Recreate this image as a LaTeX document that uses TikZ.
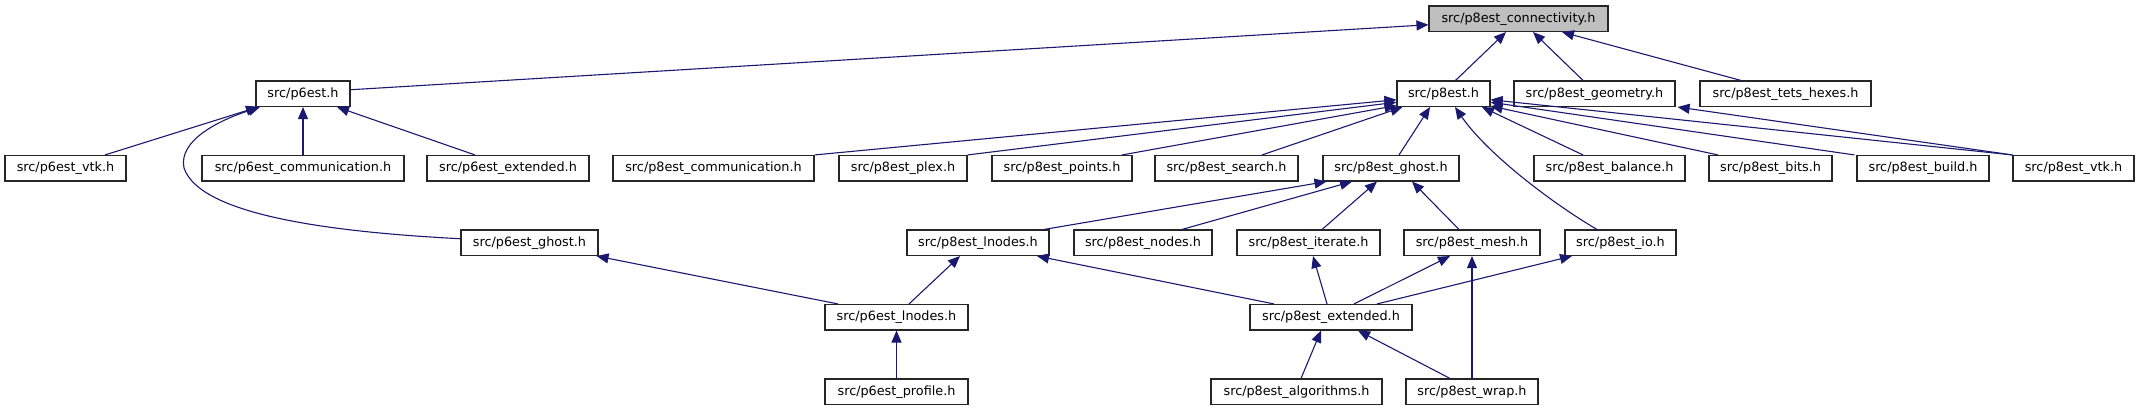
\documentclass[tikz,border=0pt]{standalone}
\usepackage{fontspec}
\setmainfont{DejaVu Sans}
\usetikzlibrary{arrows.meta}
\definecolor{edgeblue}{HTML}{191970}
\definecolor{rootgray}{HTML}{BFBFBF}
\tikzset{
  box/.style={draw=black!85, line width=1.1pt, fill=white, inner sep=0pt, minimum height=25.5pt,
    font=\fontsize{12.8}{15}\selectfont, anchor=center},
  rootbox/.style={box, fill=rootgray},
  edge/.style={draw=edgeblue, line width=1.1pt, -{Triangle[length=12pt,width=10pt]}, color=edgeblue}
}
\begin{document}
\begin{tikzpicture}[x=1pt,y=-1pt]
\useasboundingbox (0,0) rectangle (2140,411);
% row 0
\node[rootbox, minimum width=179pt] (conn) at (1518.5,18.75) {src/p8est\_connectivity.h};
% row 1
\node[box, minimum width=94pt] (p6) at (303,93.75) {src/p6est.h};
\node[box, minimum width=93pt] (p8) at (1443.5,93.75) {src/p8est.h};
\node[box, minimum width=161pt] (geom) at (1594.5,93.75) {src/p8est\_geometry.h};
\node[box, minimum width=171pt] (tets) at (1785.5,93.75) {src/p8est\_tets\_hexes.h};
% row 2
\node[box, minimum width=121pt] (p6vtk) at (65.5,168.25) {src/p6est\_vtk.h};
\node[box, minimum width=202pt] (p6comm) at (303,168.25) {src/p6est\_communication.h};
\node[box, minimum width=162pt] (p6ext) at (508,168.25) {src/p6est\_extended.h};
\node[box, minimum width=201pt] (p8comm) at (713.5,168.25) {src/p8est\_communication.h};
\node[box, minimum width=128pt] (p8plex) at (903,168.25) {src/p8est\_plex.h};
\node[box, minimum width=140pt] (p8points) at (1062,168.25) {src/p8est\_points.h};
\node[box, minimum width=143pt] (p8search) at (1226.5,168.25) {src/p8est\_search.h};
\node[box, minimum width=136pt] (p8ghost) at (1391,168.25) {src/p8est\_ghost.h};
\node[box, minimum width=151pt] (p8bal) at (1609.5,168.25) {src/p8est\_balance.h};
\node[box, minimum width=123pt] (p8bits) at (1770.5,168.25) {src/p8est\_bits.h};
\node[box, minimum width=132pt] (p8build) at (1923,168.25) {src/p8est\_build.h};
\node[box, minimum width=121pt] (p8vtk) at (2073.5,168.25) {src/p8est\_vtk.h};
% row 3
\node[box, minimum width=137pt] (p6ghost) at (529.5,242.75) {src/p6est\_ghost.h};
\node[box, minimum width=142pt] (p8lnodes) at (978,242.75) {src/p8est\_lnodes.h};
\node[box, minimum width=138pt] (p8nodes) at (1143,242.75) {src/p8est\_nodes.h};
\node[box, minimum width=143pt] (p8iter) at (1308.5,242.75) {src/p8est\_iterate.h};
\node[box, minimum width=136pt] (p8mesh) at (1472,242.75) {src/p8est\_mesh.h};
\node[box, minimum width=111pt] (p8io) at (1620.5,242.75) {src/p8est\_io.h};
% row 4
\node[box, minimum width=143pt] (p6lnodes) at (896.5,317.25) {src/p6est\_lnodes.h};
\node[box, minimum width=162pt] (p8ext) at (1331,317.25) {src/p8est\_extended.h};
% row 5
\node[box, minimum width=143pt] (p6prof) at (896.5,391.75) {src/p6est\_profile.h};
\node[box, minimum width=171pt] (p8alg) at (1296.5,391.75) {src/p8est\_algorithms.h};
\node[box, minimum width=132pt] (p8wrap) at (1472,391.75) {src/p8est\_wrap.h};

% edges into connectivity
\draw[edge] ([yshift=4pt]p6.east) -- ([yshift=-6pt]conn.west);
\draw[edge] ([xshift=12pt]p8.north) -- ([xshift=-12.5pt]conn.south);
\draw[edge] ([xshift=-11.5pt]geom.north) -- ([xshift=14.5pt]conn.south);
\draw[edge] ([xshift=-44.5pt]tets.north) -- ([xshift=43.5pt]conn.south);
% edges into p6est.h
\draw[edge] ([xshift=39.5pt]p6vtk.north) -- ([xshift=-45pt]p6.south);
\draw[edge] (p6comm.north) -- (p6.south);
\draw[edge] ([xshift=-33pt]p6ext.north) -- ([xshift=34pt]p6.south);
\draw[edge] ([yshift=4pt]p6ghost.west) .. controls (330,232) and (200,215) .. (184,168)
  .. controls (178,140) and (220,120) .. ([xshift=-43pt]p6.south);
% edges into p8est.h
\draw[edge] (p8comm.north east) -- ([yshift=-6pt]p8.west);
\draw[edge] (p8plex.north east) -- ([yshift=-8.5pt]p8.west);
\draw[edge] ([xshift=60pt]p8points.north) -- ([yshift=1.5pt]p8.south west);
\draw[edge] ([xshift=35.5pt]p8search.north) -- ([xshift=6pt]p8.south west);
\draw[edge] ([xshift=8pt]p8ghost.north) -- ([xshift=-13.5pt]p8.south);
\draw[edge] ([xshift=-23.5pt]p8io.north) .. controls (1555,205) and (1488,155) .. ([xshift=11.5pt]p8.south);
\draw[edge] ([xshift=-26.5pt]p8bal.north) -- ([xshift=38.5pt]p8.south);
\draw[edge] ([xshift=-52.5pt]p8bits.north) -- ([yshift=1pt]p8.south east);
\draw[edge] ([xshift=-2pt]p8build.north west) -- ([yshift=-8.5pt]p8.east);
\draw[edge] (p8vtk.north west) -- ([yshift=-6pt]p8.east);
\draw[edge] (p8vtk.north west) -- ([xshift=2pt]geom.south east);
% edges into p8est_ghost.h
\draw[edge] ([xshift=66pt]p8lnodes.north) -- ([xshift=4pt]p8ghost.south west);
\draw[edge] ([xshift=39pt]p8nodes.north) -- ([xshift=-39pt]p8ghost.south);
\draw[edge] ([xshift=13.5pt]p8iter.north) -- ([xshift=-14pt]p8ghost.south);
\draw[edge] ([xshift=-13pt]p8mesh.north) -- ([xshift=21pt]p8ghost.south);
% lower edges
\draw[edge] ([xshift=-58.5pt]p6lnodes.north) -- ([xshift=-2pt]p6ghost.south east);
\draw[edge] ([xshift=12.5pt]p6lnodes.north) -- ([xshift=-18pt]p8lnodes.south);
\draw[edge] ([xshift=-57pt]p8ext.north) -- ([xshift=59pt]p8lnodes.south);
\draw[edge] ([xshift=-4pt]p8ext.north) -- ([xshift=4.5pt]p8iter.south);
\draw[edge] ([xshift=23pt]p8ext.north) -- ([xshift=-22pt]p8mesh.south);
\draw[edge] ([xshift=46pt]p8ext.north) -- ([xshift=-48.5pt]p8io.south);
\draw[edge] (p8wrap.north) -- (p8mesh.south);
\draw[edge] (p6prof.north) -- (p6lnodes.south);
\draw[edge] ([xshift=4.5pt]p8alg.north) -- ([xshift=-10pt]p8ext.south);
\draw[edge] ([xshift=-22pt]p8wrap.north) -- ([xshift=27pt]p8ext.south);
\end{tikzpicture}
\end{document}
